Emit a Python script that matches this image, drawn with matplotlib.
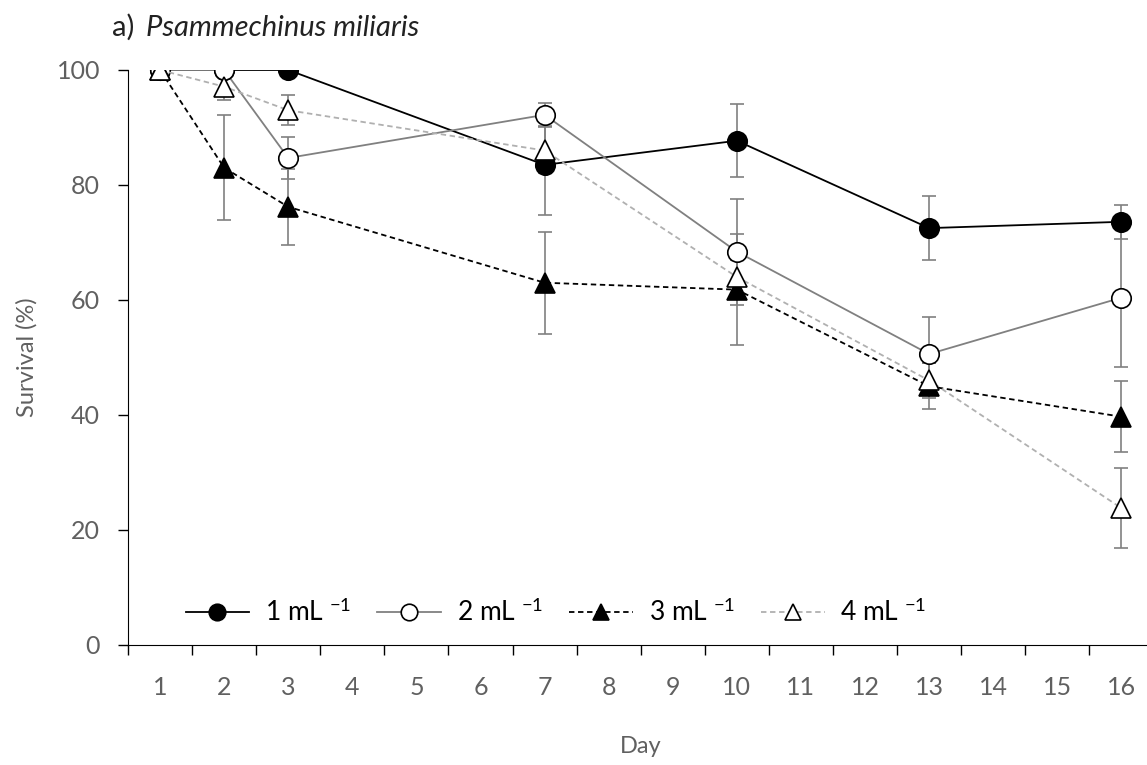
import matplotlib.pyplot as plt

plt.rcParams['font.family'] = ['Lato', 'DejaVu Sans']
plt.rcParams['mathtext.fontset'] = 'custom'
plt.rcParams['mathtext.rm'] = 'Lato'
plt.rcParams['mathtext.it'] = 'Lato:italic'

# days shown on the categorical axis and days with measurements
day_labels = [str(d) for d in range(1, 17)]
days = [1, 2, 3, 7, 10, 13, 16]

# mean survival (%) per density
surv_1 = [100, 100, 100, 83.5, 87.7, 72.5, 73.6]
surv_2 = [100, 100, 84.7, 92.2, 68.4, 50.6, 60.4]
surv_3 = [100, 83, 76.2, 63.0, 61.8, 45.0, 39.7]
surv_4 = [100, 97.1, 93.0, 86.0, 64.0, 46.0, 23.8]

# error bars (SE)
err_1 = [0, 0, 0, 8.7, 6.3, 5.5, 3.0]
err_2 = [0, 0, 3.6, 2.0, 9.2, 6.5, 12.0]
err_3 = [0, 9.1, 6.6, 8.9, 9.6, 4.0, 6.2]
err_4 = [0, 2.3, 2.6, 4.0, 3.0, 3.0, 7.0]

labels = ['1 mL $^{-1}$', '2 mL $^{-1}$', '3 mL $^{-1}$', '4 mL $^{-1}$']

fig = plt.figure(figsize=(11.47, 7.65), dpi=100)
ax = fig.add_axes([0.1116, 0.1569, 0.894, 0.7516])

series = [
    (surv_1, err_1, 'o', 'black', 'black', '-'),
    (surv_2, err_2, 'o', 'white', '#808080', '-'),
    (surv_3, err_3, '^', 'black', 'black', (0, (3, 2))),
    (surv_4, err_4, '^', 'white', '#b0b0b0', (0, (3, 2))),
]

for (vals, errs, mk, fc, lc, ls), lab in zip(series, labels):
    ax.errorbar(days, vals, yerr=errs, fmt='none', ecolor='#808080',
                elinewidth=1.2, capsize=5, capthick=1.2, zorder=2)
    ax.plot(days, vals, color=lc, linestyle=ls, linewidth=1.3, marker=mk,
            markersize=14, markerfacecolor=fc, markeredgecolor='black',
            markeredgewidth=1.2, label=lab, zorder=3)

ax.set_xlim(0.5, 16.5)
ax.set_ylim(0, 100)
ax.set_xticks(range(1, 17))
ax.set_xticklabels(day_labels)
ax.set_xticks([x + 0.5 for x in range(0, 17)], minor=True)
ax.tick_params(axis='x', which='major', length=0, pad=22, labelsize=18, labelcolor='#606060')
ax.tick_params(axis='x', which='minor', length=7, width=1, direction='out', color='black')
ax.set_yticks([0, 20, 40, 60, 80, 100])
ax.tick_params(axis='y', length=7, width=1, direction='out', labelsize=18, labelcolor='#606060', pad=13)

for s in ['top', 'right']:
    ax.spines[s].set_visible(False)

ax.set_xlabel('Day', fontsize=17, color='#606060', labelpad=27)
ax.set_ylabel('Survival (%)', fontsize=17, color='#606060', labelpad=14)

fig.text(0.098, 0.964, 'a) ', fontsize=21, color='#222222', ha='left', va='center')
fig.text(0.127, 0.964, 'Psammechinus miliaris', fontsize=21, color='#222222',
         style='italic', ha='left', va='center')

ax.legend(loc='lower left', bbox_to_anchor=(0.033, -0.008), ncol=4, frameon=False,
          fontsize=19, handlelength=2.4, columnspacing=1.0, handletextpad=0.6,
          markerscale=0.85)

plt.savefig('out.png', dpi=100)
